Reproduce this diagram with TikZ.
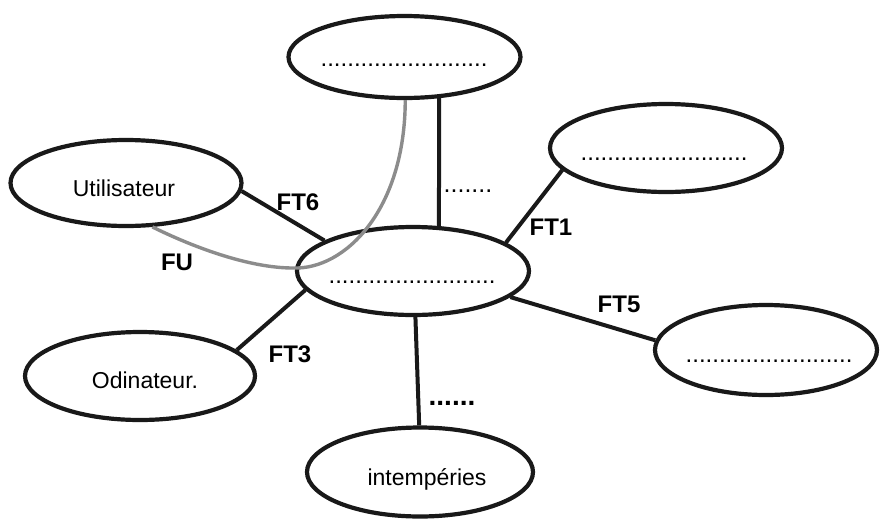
\documentclass[tikz,border=0pt]{standalone}
\usepackage{fontspec}
\setmainfont{Liberation Sans}
\usetikzlibrary{shapes.geometric}
\begin{document}
\begin{tikzpicture}[x=1pt,y=-1pt,
  bubble/.style={draw=black!90, line width=4.2pt, ellipse, inner sep=0pt},
  link/.style={draw=black!90, line width=4pt},
  fuline/.style={draw=black!45, line width=3.4pt},
  txt/.style={font=\fontsize{23}{25}\selectfont, inner sep=0pt, anchor=base},
  ftlbl/.style={font=\fontsize{24}{26}\selectfont\bfseries, inner sep=0pt, anchor=base},
  dots/.style={font=\fontsize{24}{26}\selectfont, inner sep=0pt, anchor=base}]
\fill[white] (0,0) rectangle (881,520);
\useasboundingbox (0,0) rectangle (881,520);
% ellipses
\node[bubble, minimum width=232pt, minimum height=82pt] (top) at (404.5,57) {};
\node[bubble, minimum width=232pt, minimum height=88pt] (tr) at (666,148) {};
\node[bubble, minimum width=231pt, minimum height=86pt] (util) at (126,183) {};
\node[bubble, minimum width=232pt, minimum height=88pt] (mid) at (413,271) {};
\node[bubble, minimum width=222pt, minimum height=90pt] (right) at (766,350) {};
\node[bubble, minimum width=230pt, minimum height=88pt] (odin) at (140,376) {};
\node[bubble, minimum width=226pt, minimum height=89pt] (intemp) at (420,472) {};
% texts
\node[dots] (dtop) at (404,66) {.........................};
\node[dots] (dtr) at (664,160) {.........................};
\node[dots] (dmid) at (412,283) {.........................};
\node[dots] (dright) at (769,362) {.........................};
\node[txt] (tutil) at (124,196) {Utilisateur};
\node[txt] (todin) at (145,388) {Odinateur.};
\node[txt] (tintemp) at (427,485) {intempéries};
% connectors
\draw[link] (top.-50.5) -- (mid.60.9);
\draw[link] (util.-4.4) -- (mid.161);
\draw[link] (mid.17.9) -- (tr.-168.3);
\draw[link] (mid.-15.5) -- (right.175.9);
\draw[link] (mid.190.7) -- (odin.15);
\draw[link] (mid.-87.5) -- (intemp.91.5);
\draw[fuline] (top.-89) .. controls (405,210) and (345,270) .. (293,268)
  .. controls (250,268) and (195,248) .. (util.-59.6);
% labels
\node[font=\fontsize{25}{26}\selectfont, inner sep=0pt, anchor=base] (ltop) at (468,192) {.......};
\node[font=\fontsize{28}{28}\selectfont\bfseries, inner sep=0pt, anchor=base] (lbot) at (452,405) {......};
\node[ftlbl] (ft6) at (298,210) {FT6};
\node[ftlbl] (fu) at (177,270) {FU};
\node[ftlbl] (ft1) at (551,235) {FT1};
\node[ftlbl] (ft5) at (619,312) {FT5};
\node[ftlbl] (ft3) at (290,362) {FT3};
\end{tikzpicture}
\end{document}
